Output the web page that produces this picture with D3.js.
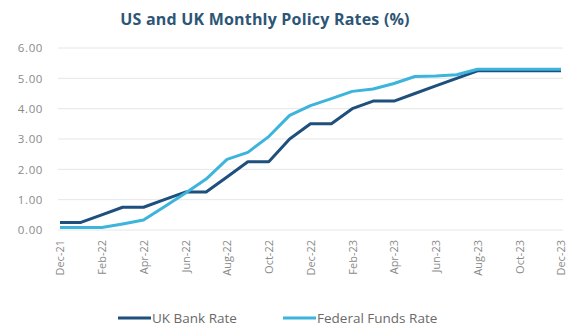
<!DOCTYPE html>
<html>
<head>
<meta charset="utf-8">
<script src="https://cdn.jsdelivr.net/npm/d3@7"></script>
<style>
  body { margin: 0; background: #fff; }
  text { font-family: "Open Sans", Lato, sans-serif; }
</style>
</head>
<body>
<svg width="572" height="335"></svg>
<script>
// monthly months, Dec-21 .. Dec-23
const months = ["Dec-21","Jan-22","Feb-22","Mar-22","Apr-22","May-22","Jun-22","Jul-22","Aug-22","Sep-22","Oct-22","Nov-22",
  "Dec-22","Jan-23","Feb-23","Mar-23","Apr-23","May-23","Jun-23","Jul-23","Aug-23","Sep-23","Oct-23","Nov-23","Dec-23"];
const ukRate = [0.25,0.25,0.50,0.75,0.75,1.00,1.25,1.25,1.75,2.25,2.25,3.00,
  3.50,3.50,4.00,4.25,4.25,4.50,4.75,5.00,5.25,5.25,5.25,5.25,5.25];
const fedRate = [0.08,0.08,0.08,0.20,0.33,0.77,1.21,1.68,2.33,2.56,3.08,3.78,
  4.10,4.33,4.57,4.65,4.83,5.06,5.08,5.12,5.30,5.30,5.30,5.30,5.30];
const yTicks = [0,1,2,3,4,5,6];
const seriesNames = ["UK Bank Rate", "Federal Funds Rate"];
const colors = ["#1f4f7c", "#3cb4dc"];

const svg = d3.select('svg');

// title
svg.append('text')
  .attr('x', 265).attr('y', 25)
  .attr('text-anchor', 'middle')
  .style('font-size', '16px').style('font-weight', '700')
  .style('letter-spacing', '0.2px')
  .style('fill', '#2d5676')
  .text('US and UK Monthly Policy Rates (%)');

const x = d3.scalePoint().domain(months).range([60, 561]);
const y = d3.scaleLinear().domain([0, 6]).range([230, 48]);

// gridlines
svg.append('g').selectAll('line')
  .data(yTicks).enter().append('line')
  .attr('x1', 58).attr('x2', 563)
  .attr('y1', d => y(d)).attr('y2', d => y(d))
  .attr('stroke', '#e6e6e6').attr('stroke-width', 1);

// y axis
const yAxis = svg.append('g')
  .attr('transform', 'translate(43,0)')
  .call(d3.axisLeft(y).tickValues(yTicks).tickFormat(d3.format('.2f')).tickSize(0).tickPadding(0));
yAxis.select('.domain').remove();
yAxis.selectAll('text').style('font-size', '11.5px').style('letter-spacing', '0.6px').style('fill', '#8a8a8a');

// x axis: every other month labelled
const xAxis = svg.append('g')
  .attr('transform', 'translate(0,236)')
  .call(d3.axisBottom(x).tickValues(months.filter((m, i) => i % 2 === 0)).tickSize(0).tickPadding(0));
xAxis.select('.domain').remove();
xAxis.selectAll('text')
  .attr('transform', 'rotate(-90)')
  .attr('text-anchor', 'end')
  .attr('x', -4).attr('y', 0).attr('dy', '0.35em')
  .style('font-size', '11px').style('fill', '#8a8a8a');

// lines
const line = d3.line().x((d, i) => x(months[i])).y(d => y(d));
[ukRate, fedRate].forEach((s, k) => {
  svg.append('path')
    .datum(s)
    .attr('d', line)
    .attr('fill', 'none')
    .attr('stroke', colors[k])
    .attr('stroke-width', 3)
    .attr('stroke-linejoin', 'round');
});

// legend
const legendX = [118, 283];
const legend = svg.append('g').selectAll('g')
  .data(seriesNames).enter().append('g')
  .attr('transform', (d, i) => `translate(${legendX[i]},318)`);
legend.append('line')
  .attr('x1', 0).attr('x2', 33)
  .attr('stroke', (d, i) => colors[i]).attr('stroke-width', 3);
legend.append('text')
  .attr('x', 34).attr('dy', '0.35em')
  .style('font-size', '13.5px').style('fill', '#6a6a6a')
  .text(d => d);
</script>
</body>
</html>
